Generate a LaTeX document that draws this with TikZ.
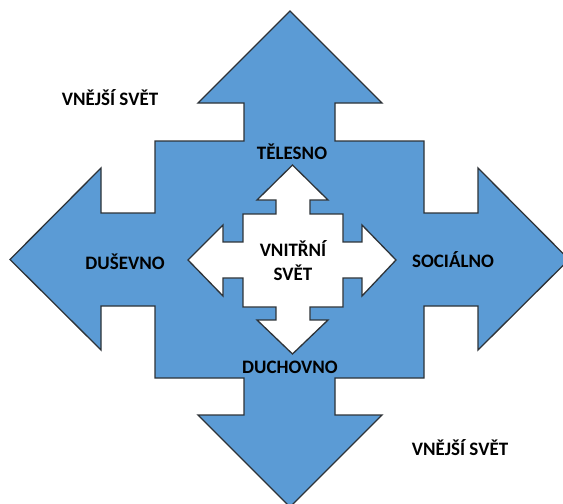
\documentclass[tikz,border=0pt]{standalone}
\usepackage{fontspec}
\setmainfont{Carlito}
\definecolor{armblue}{HTML}{5B9BD5}
\definecolor{armline}{HTML}{2E3338}
\tikzset{
  arm/.style={draw=armline, line width=1.3pt, line join=miter},
  lbl/.style={font=\bfseries\fontsize{19}{24}\selectfont, text=black, inner sep=0pt}
}
\begin{document}
\begin{tikzpicture}[x=1pt, y=-1pt]
  \useasboundingbox (0,0) rectangle (563,504);

  % outer four-way arrow (vnejsi)
  \draw[arm, fill=armblue] (290,11) -- (382,103) -- (335,103) -- (335,141) -- (424,141)
    -- (424,213) -- (478,213) -- (478,168) -- (569,259.5) -- (478,350) -- (478,306)
    -- (424,306) -- (424,378) -- (335,378) -- (335,415) -- (382,415) -- (290,507)
    -- (198,415) -- (244,415) -- (244,378) -- (155,378) -- (155,306) -- (101,306)
    -- (101,350) -- (10,259.5) -- (101,168) -- (101,213) -- (155,213) -- (155,141)
    -- (244,141) -- (244,103) -- (198,103) -- cycle;

  % inner four-way arrow (vnitrni)
  \draw[arm, fill=white] (292.5,165) -- (328,200) -- (310,200) -- (310,214) -- (343,214)
    -- (343,242) -- (362,242) -- (362,225) -- (396,260) -- (362,296) -- (362,278)
    -- (343,278) -- (343,307) -- (310,307) -- (310,320) -- (328,320) -- (292.5,354)
    -- (257,320) -- (276,320) -- (276,307) -- (243,307) -- (243,278) -- (223,278)
    -- (223,296) -- (188,260) -- (223,225) -- (223,242) -- (243,242) -- (243,214)
    -- (276,214) -- (276,200) -- (257,200) -- cycle;

  % labels
  \node[lbl] (telo) at (292,152) {TĚLESNO};
  \node[lbl] (duse) at (125,262) {DUŠEVNO};
  \node[lbl] (spol) at (453,260) {SOCIÁLNO};
  \node[lbl] (duch) at (290,367) {DUCHOVNO};
  \node[lbl, align=center] (vnitr) at (293,261) {VNITŘNÍ\\SVĚT};
  \node[lbl] (vnej1) at (110,98) {VNĚJŠÍ SVĚT};
  \node[lbl] (vnej2) at (460,448) {VNĚJŠÍ SVĚT};
\end{tikzpicture}
\end{document}
